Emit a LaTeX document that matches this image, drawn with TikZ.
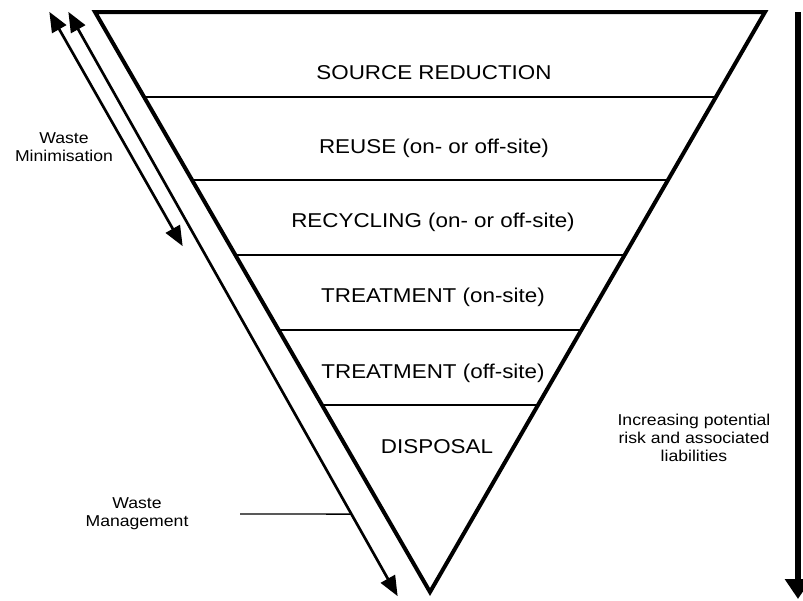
\documentclass[tikz,border=0pt]{standalone}
\usepackage{fontspec}
\setmainfont{Liberation Sans}
\newfontfamily\lblfont[FakeStretch=1.12]{Liberation Sans}
\usetikzlibrary{arrows.meta,calc}
\begin{document}
\begin{tikzpicture}[x=0.75pt,y=-0.75pt,
  tri/.style={line width=3pt,line join=miter},
  level/.style={line width=1.4pt},
  lvltext/.style={font=\lblfont\fontsize{15}{17}\selectfont,inner sep=0pt},
  sidetext/.style={font=\lblfont\fontsize{11.8}{13.5}\selectfont,align=center,inner sep=0pt},
  dblarrow/.style={line width=2pt,{Triangle[length=15pt,width=12pt]}-{Triangle[length=15pt,width=12pt]}, shorten <=-1pt, shorten >=-1pt},
  bigarrow/.style={line width=4pt,-{Triangle[length=15pt,width=19pt]}}]
\useasboundingbox (0,0) rectangle (803,600);
% triangle
\coordinate (TL) at (95,12);
\coordinate (TR) at (765,12);
\coordinate (AP) at (430,592);
\draw[tri] (TL) -- (TR) -- (AP) -- cycle;
% level lines
\foreach \t/\n in {0.1466/1,0.2897/2,0.4190/3,0.5483/4,0.6776/5}{
  \coordinate (L\n) at ($(TL)!\t!(AP)$);
  \coordinate (R\n) at ($(TR)!\t!(AP)$);
  \draw[level] (L\n) -- (R\n);
}
% level texts
\node[lvltext] (t1) at (434,73) {SOURCE REDUCTION};
\node[lvltext] (t2) at (434,148) {REUSE (on- or off-site)};
\node[lvltext] (t3) at (433,222) {RECYCLING (on- or off-site)};
\node[lvltext] (t4) at (433,297) {TREATMENT (on-site)};
\node[lvltext] (t5) at (433,373) {TREATMENT (off-site)};
\node[lvltext] (t6) at (437,447) {DISPOSAL};
% left arrows
\coordinate (MinA) at (50,13);
\coordinate (MinB) at (182,245);
\coordinate (ManA) at (69,13);
\coordinate (ManB) at (397,595);
\draw[dblarrow] (MinA) -- (MinB);
\draw[dblarrow] (ManA) -- (ManB);
\node[sidetext] (wmin) at (64,147) {Waste\\Minimisation};
\node[sidetext] (wman) at (137,514) {Waste\\Management};
\path (ManA) -- (ManB) coordinate[pos=0.861] (ML);
\coordinate (MS) at (240,514);
\draw[line width=1pt] (MS) -- (ML);
% right arrow
\coordinate (RA) at (798,12);
\coordinate (RB) at (798,599);
\draw[bigarrow] (RA) -- (RB);
\node[sidetext] (risk) at (694,438) {Increasing potential\\risk and associated\\liabilities};
\end{tikzpicture}
\end{document}
